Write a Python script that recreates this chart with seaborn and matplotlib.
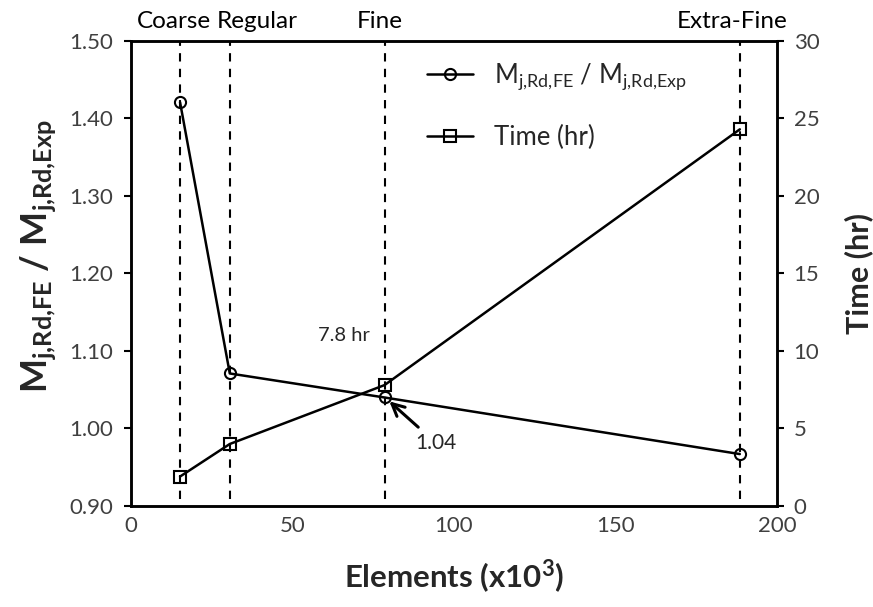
import matplotlib
matplotlib.use("Agg")
import matplotlib.pyplot as plt
import seaborn as sns
import pandas as pd

elements = [15.2, 30.6, 78.5, 188.5]
ratio = [1.421, 1.071, 1.040, 0.967]
time_hr = [1.9, 4.0, 7.8, 24.3]
mesh_names = ["Coarse", "Regular", "Fine", "Extra-Fine"]
mesh_label_x = [13.2, 39.0, 77.0, 186.0]

sns.set_theme(style="white")
plt.rcParams["font.family"] = ["Lato", "DejaVu Sans"]
plt.rcParams["mathtext.fontset"] = "custom"
plt.rcParams["mathtext.rm"] = "Lato"
plt.rcParams["mathtext.it"] = "Lato:italic"
plt.rcParams["mathtext.bf"] = "Lato:bold"

df = pd.DataFrame({"elements": elements, "ratio": ratio, "time": time_hr})

fig = plt.figure(figsize=(8.73, 6.07), dpi=100)
ax = fig.add_axes([0.150, 0.1664, 0.740, 0.7661])
ax2 = ax.twinx()

sns.lineplot(data=df, x="elements", y="ratio", ax=ax, color="black", lw=1.8,
             marker="o", markersize=8, markerfacecolor="none", markeredgecolor="black",
             markeredgewidth=1.5,
             label=r"$\mathregular{M_{j{,}Rd{,}FE}}$ / $\mathregular{M_{j{,}Rd{,}Exp}}$",
             legend=False)
sns.lineplot(data=df, x="elements", y="time", ax=ax2, color="black", lw=1.8,
             marker="s", markersize=8, markerfacecolor="none", markeredgecolor="black",
             markeredgewidth=1.5, label="Time (hr)", legend=False)

for xv in elements:
    ax.axvline(xv, ymin=0.015, ymax=1.0, color="black", ls=(0, (4, 3.5)), lw=1.5, zorder=0)

ax.set_xlim(0, 200)
ax.set_ylim(0.90, 1.50)
ax2.set_ylim(0, 30)
ax.set_xticks([0, 50, 100, 150, 200])
ax.set_yticks([0.90, 1.00, 1.10, 1.20, 1.30, 1.40, 1.50])
ax.set_yticklabels([f"{v:.2f}" for v in [0.90, 1.00, 1.10, 1.20, 1.30, 1.40, 1.50]])
ax2.set_yticks([0, 5, 10, 15, 20, 25, 30])

for a in (ax, ax2):
    for s in a.spines.values():
        s.set_color("black")
        s.set_linewidth(1.8)
    a.tick_params(direction="out", length=5, width=1.5, colors="black",
                  labelsize=16, labelcolor="#404040")
ax.tick_params(axis="x", pad=2)
ax.tick_params(axis="y", pad=8)
ax2.tick_params(axis="y", pad=7)

ax.set_xlabel(r"Elements (x10$^\mathregular{3}$)", fontsize=22.5, fontweight="bold", labelpad=16)
ax.set_ylabel(r"$\mathregular{M_{j{,}Rd{,}FE}}$ / $\mathregular{M_{j{,}Rd{,}Exp}}$", fontsize=26,
              fontweight="bold")
ax.yaxis.set_label_coords(-0.112, 0.538)
ax2.set_ylabel("Time (hr)", fontsize=22, fontweight="bold", labelpad=18)

for name, xl in zip(mesh_names, mesh_label_x):
    ax.text(xl, 1.02, name, transform=ax.get_xaxis_transform(), ha="center", va="bottom",
            fontsize=17.5, color="black")

ax2.text(66, 11.0, "7.8 hr", fontsize=14.5, color="#262626", ha="center", va="center")
ax.annotate("1.04", xy=(80.0, 1.035), xytext=(94.5, 0.981), fontsize=15, color="#262626",
            ha="center", va="center",
            arrowprops=dict(arrowstyle="->", color="black", lw=2.2,
                            shrinkA=3, shrinkB=0, mutation_scale=22))

h1, l1 = ax.get_legend_handles_labels()
h2, l2 = ax2.get_legend_handles_labels()
leg = ax2.legend(h1 + h2, l1 + l2, loc="upper left", bbox_to_anchor=(0.422, 1.005),
                 frameon=False, fontsize=18.5, labelspacing=1.25, handlelength=1.8,
                 handletextpad=0.8)
for t in leg.get_texts():
    t.set_color("#262626")

fig.savefig("out.png", dpi=100)
